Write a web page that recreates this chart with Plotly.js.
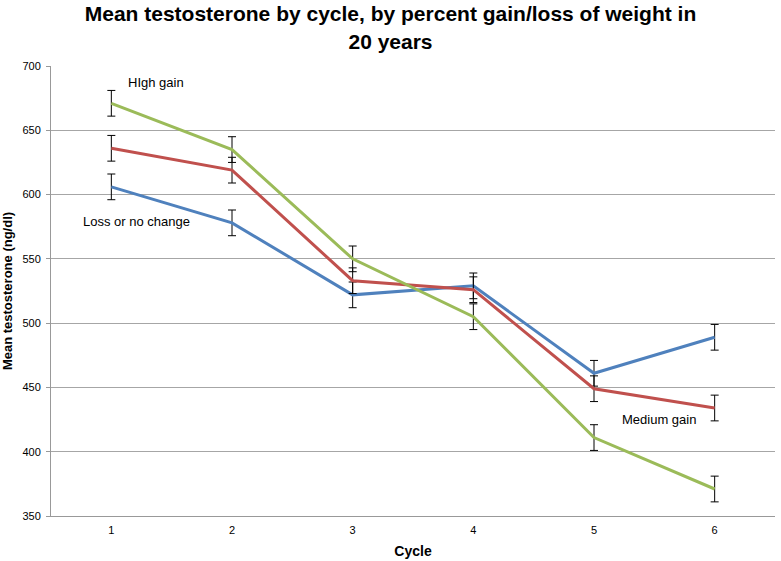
<!DOCTYPE html>
<html>
<head>
<meta charset="utf-8">
<script src="https://cdn.plot.ly/plotly-3.0.1.min.js"></script>
<style>html,body{margin:0;padding:0;background:#fff}#chart{width:781px;height:561px}</style>
</head>
<body>
<div id="chart"></div>
<script>
var cycles = [1, 2, 3, 4, 5, 6];
var lossNoChange = [606, 578, 522, 529, 461, 489];
var mediumGain = [636, 619, 533, 526, 449, 434];
var highGain = [671, 635, 550, 505, 411, 371];
var errLoss = [10, 10, 10, 10, 10, 10];
var errMedium = [10, 10, 10, 10, 10, 10];
var errHigh = [10, 10, 10, 10, 10, 10];
var yTicks = [350, 400, 450, 500, 550, 600, 650, 700];

function mk(name, y, err, color) {
  return {
    x: cycles, y: y, name: name, type: 'scatter', mode: 'lines',
    line: {color: color, width: 3},
    error_y: {type: 'data', array: err, visible: true, color: '#000', thickness: 1, width: 4}
  };
}
var data = [
  mk('Loss or no change', lossNoChange, errLoss, '#4F81BD'),
  mk('Medium gain', mediumGain, errMedium, '#C0504D'),
  mk('High gain', highGain, errHigh, '#9BBB59')
];
var f = 'Liberation Sans, Arial, sans-serif';
var layout = {
  width: 781, height: 561,
  margin: {l: 51, r: 6, t: 66, b: 45},
  paper_bgcolor: '#fff', plot_bgcolor: '#fff',
  showlegend: false,
  font: {family: f, color: '#000', size: 11},
  title: {text: '<b>Mean testosterone by cycle, by percent gain/loss of weight in<br>20 years</b>',
          x: 0.5, xanchor: 'center', y: 0.962, yanchor: 'middle',
          font: {family: f, size: 21, color: '#000'}},
  xaxis: {
    range: [0.5, 6.5], tickvals: cycles, ticktext: cycles.map(String),
    showgrid: false, zeroline: false, showline: true, linecolor: '#999', linewidth: 1,
    ticks: '', tickfont: {size: 11}, ticklabelstandoff: 4,
    title: {text: '<b>Cycle</b>', font: {size: 14}, standoff: 10}
  },
  yaxis: {
    range: [350, 700], tickvals: yTicks, ticktext: yTicks.map(String),
    showgrid: true, gridcolor: '#a6a6a6', gridwidth: 1,
    zeroline: false, showline: true, linecolor: '#999', linewidth: 1,
    ticks: 'outside', ticklen: 4, tickcolor: '#999', tickfont: {size: 11}, ticklabelstandoff: 3,
    title: {text: '<b>Mean testosterone (ng/dl)</b>', font: {size: 13}, standoff: 6}
  },
  annotations: [
    {x: 1.366, y: 687, text: 'HIgh gain', showarrow: false, font: {family: f, size: 13}},
    {x: 1.21, y: 579, text: 'Loss or no change', showarrow: false, font: {family: f, size: 13}},
    {x: 5.536, y: 425, text: 'Medium gain', showarrow: false, font: {family: f, size: 13}}
  ]
};
Plotly.newPlot('chart', data, layout, {displayModeBar: false});
</script>
</body>
</html>
